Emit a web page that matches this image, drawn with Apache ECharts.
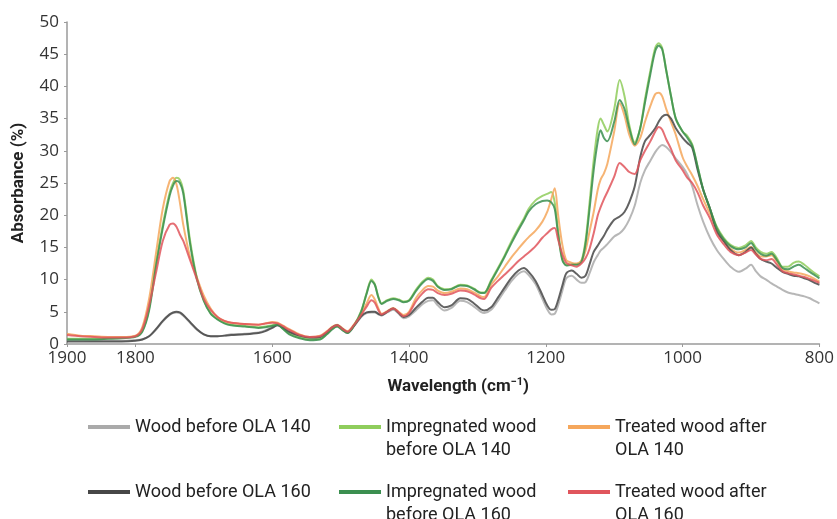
<!DOCTYPE html>
<html>
<head>
<meta charset="utf-8">
<script src="https://cdn.jsdelivr.net/npm/echarts@6/dist/echarts.min.js"></script>
<style>
html,body{margin:0;padding:0;background:#fff;}
#chart{width:837px;height:519px;}
</style>
</head>
<body>
<div id="chart"></div>
<script>
// Wavenumbers (cm-1)
const wavenumbers = [
1900,1880,1860,1840,1820,1800,1790,1780,1770,1760,1750,1745,1740,1735,1730,1720,1710,1700,1690,1680,1670,1660,1640,1620,1610,
1600,1592,1585,1575,1560,1545,1530,1520,1512,1505,1498,1490,1480,1470,1462,1455,1450,1445,1440,1432,1423,1415,1408,1400,1390,1380,1372,1365,1358,1348,
1338,1325,1315,1305,1295,1290,1280,1270,1260,1250,1240,1232,1225,1215,1205,1198,1192,1187,1182,1176,1170,1162,1155,1148,1142,1136,1130,1124,1120,1115,1110,1100,1092,1085,1078,1070,1062,1055,1047,1040,1035,1030,1024,1017,1010,1000,993,986,978,970,960,950,940,930,918,908,900,893,886,878,870,862,854,846,838,830,822,814,807,800];

const woodBefore140 = [
0.6,0.6,0.5,0.5,0.5,0.6,0.7,1.2,2.2,3.5,4.5,4.8,4.9,4.8,4.4,3.3,2.2,1.5,1.2,1.2,1.3,1.5,1.6,1.8,2.1,
2.6,2.9,2.5,1.8,1.2,0.9,1.0,1.7,2.5,2.8,2.3,1.7,2.8,4.2,4.8,4.9,4.9,4.6,4.4,4.9,5.3,4.7,4.0,4.3,5.2,6.2,6.7,6.8,6.0,5.2,
5.6,6.7,6.5,5.8,5.0,4.8,5.3,6.7,8.3,9.8,10.9,11.3,10.7,9.3,7.0,5.4,4.6,4.7,6.0,8.2,10.2,10.6,10.0,9.5,9.6,11.0,12.7,13.8,14.5,15.0,15.5,16.7,17.2,18.0,19.3,21.5,25.0,27.0,28.5,29.8,30.5,30.9,30.6,29.8,28.8,27.5,26.3,24.5,21.5,19.0,16.5,14.6,13.2,12.0,11.2,11.7,12.3,11.3,10.5,10.0,9.4,8.9,8.4,8.0,7.8,7.6,7.4,7.1,6.7,6.3];

const impregnated140 = [
0.8,0.8,0.8,0.9,1.0,1.2,2.0,5.5,12.5,18.5,23.5,25.0,25.8,25.5,23.8,16.0,10.2,6.8,4.8,3.9,3.3,3.0,2.8,2.6,2.7,
2.9,3.1,2.5,1.6,1.0,0.7,0.8,1.6,2.4,2.8,2.3,1.8,3.0,5.1,7.9,10.0,9.3,7.4,6.3,6.8,7.1,6.9,6.6,6.8,8.4,9.7,10.3,10.0,9.0,8.5,
8.6,9.2,9.1,8.6,8.0,8.0,9.9,11.8,13.8,16.0,18.0,19.5,21.0,22.3,23.0,23.3,23.6,22.0,17.5,13.3,12.3,12.4,12.4,12.9,16.0,22.0,28.5,33.5,35.0,34.0,33.0,36.5,41.0,38.5,34.0,31.3,33.5,38.0,42.5,46.0,46.7,46.0,42.5,38.5,35.0,33.0,32.3,31.0,27.5,24.0,21.0,18.2,16.5,15.4,14.9,15.3,16.0,15.0,14.3,14.0,14.3,13.3,12.0,12.0,12.6,12.8,12.3,11.6,11.0,10.5];

const treated140 = [
1.6,1.3,1.2,1.1,1.1,1.3,2.6,7.0,14.0,21.0,25.3,25.8,24.8,22.0,18.5,13.5,10.3,7.5,5.5,4.2,3.6,3.3,3.1,3.0,3.2,
3.4,3.3,2.9,2.3,1.5,1.1,1.3,2.0,2.7,3.0,2.5,2.0,3.1,4.6,6.3,7.6,6.9,5.6,4.7,5.1,5.6,5.0,4.5,5.0,7.1,8.4,9.0,8.9,8.3,7.9,
8.1,8.6,8.5,8.0,7.4,7.3,9.2,10.5,12.0,13.5,14.8,15.8,16.6,17.6,19.0,20.5,22.5,24.2,20.0,15.5,13.0,12.6,12.5,12.9,14.5,17.5,20.5,24.0,25.5,26.5,28.0,33.0,37.4,35.5,32.5,30.8,32.0,34.5,37.0,38.8,39.0,38.5,36.5,34.5,32.5,29.0,27.5,26.2,24.5,22.5,20.2,17.8,16.0,14.8,14.2,14.6,15.1,14.2,13.6,13.6,13.8,12.8,11.6,11.3,11.1,11.0,10.8,10.5,10.1,9.7];

const woodBefore160 = [
0.4,0.4,0.4,0.4,0.4,0.5,0.7,1.2,2.3,3.6,4.6,4.9,5.0,4.9,4.5,3.4,2.3,1.5,1.2,1.2,1.3,1.4,1.5,1.7,2.0,
2.5,2.9,2.6,1.9,1.3,1.0,1.1,1.8,2.6,2.9,2.4,1.8,2.9,4.3,4.9,5.0,5.0,4.7,4.5,5.0,5.5,4.8,4.2,4.5,5.6,6.6,7.2,7.2,6.5,5.7,
6.0,7.1,7.0,6.3,5.4,5.2,5.7,7.2,8.8,10.3,11.4,11.8,11.2,9.8,7.6,6.0,5.3,5.4,6.8,9.0,11.0,11.4,10.9,10.3,10.6,12.4,14.3,15.3,16.0,16.8,17.8,19.3,19.8,20.5,22.0,24.5,29.0,31.5,32.5,33.5,34.5,35.3,35.6,35.0,33.5,32.0,31.2,30.5,27.0,24.0,21.0,17.5,16.0,14.6,13.8,14.3,15.0,14.0,13.2,12.8,12.5,11.8,11.2,10.9,10.6,10.5,10.2,9.9,9.5,9.2];

const impregnated160 = [
0.7,0.7,0.7,0.8,0.9,1.1,1.9,5.2,12.0,18.0,23.0,24.6,25.3,25.0,23.4,15.5,10.0,6.7,4.7,3.8,3.2,2.9,2.7,2.5,2.6,
2.8,3.0,2.4,1.5,0.9,0.6,0.7,1.5,2.3,2.7,2.2,1.7,2.9,5.0,7.8,9.8,9.2,7.3,6.2,6.7,7.0,6.8,6.5,6.7,8.2,9.5,10.1,9.8,8.9,8.4,
8.5,9.1,9.0,8.5,7.9,7.9,9.7,11.6,13.6,15.7,17.7,19.2,20.6,21.7,22.2,22.3,22.0,21.0,17.0,13.1,12.2,12.3,12.3,12.7,15.5,21.0,27.0,31.5,33.2,32.0,31.5,34.5,37.9,36.5,33.5,31.0,33.5,37.5,42.0,45.5,46.3,45.8,42.5,38.5,35.0,33.0,32.0,30.8,27.5,24.0,21.0,18.0,16.3,15.2,14.7,15.0,15.7,14.7,14.0,13.7,14.0,13.0,11.8,11.6,12.0,12.3,11.8,11.2,10.7,10.2];

const treated160 = [
1.4,1.2,1.1,1.0,1.0,1.2,2.3,6.0,11.0,16.0,18.5,18.7,18.2,17.0,16.0,13.0,10.0,7.0,5.3,4.2,3.6,3.3,3.1,3.0,3.2,
3.3,3.2,2.8,2.2,1.4,1.1,1.2,1.9,2.6,2.9,2.4,1.9,3.0,4.5,5.8,6.8,6.4,5.3,4.6,5.0,5.5,4.9,4.3,4.8,6.6,7.9,8.5,8.4,7.9,7.6,
7.8,8.3,8.2,7.7,7.1,7.0,8.7,9.8,10.8,11.8,12.9,13.6,14.2,15.2,16.5,17.2,17.8,18.0,16.2,14.0,12.6,12.2,12.0,12.5,13.3,14.8,17.2,20.0,21.2,22.5,23.6,26.0,28.1,27.5,26.7,26.4,28.5,30.0,31.5,33.0,33.7,33.3,31.8,30.3,28.5,27.0,25.8,25.0,23.5,21.5,19.5,17.0,15.5,14.3,13.8,14.2,14.6,13.9,13.2,13.0,13.2,12.3,11.3,11.0,10.8,10.6,10.4,10.1,9.8,9.5];

// Peak annotations
const peakLabels = ['(a)','(b)','(c)','(d)','(e)','(f)','(g)','(h)','(i)'];
const peakWavenumbers = [1737,1504,1455,1363,1267,1188,1124,1088,1036];
const peakLabelValues = [28.1,5.0,11.8,12.4,14.3,26.4,36.5,42.5,48.6];

const seriesNames = ['Wood before OLA 140','Impregnated wood before OLA 140','Treated wood after OLA 140',
                     'Wood before OLA 160','Impregnated wood before OLA 160','Treated wood after OLA 160'];
const legendTexts = ['Wood before OLA 140', ' \nImpregnated wood\nbefore OLA 140', ' \nTreated wood after\nOLA 140',
                     'Wood before OLA 160', ' \nImpregnated wood\nbefore OLA 160', ' \nTreated wood after\nOLA 160'];
const seriesValues = [woodBefore140, impregnated140, treated140, woodBefore160, impregnated160, treated160];
const seriesColors = ['#aaaaaa','#8fcd5c','#f5a75c','#474747','#3b8f50','#e0555c'];

const FONT = '"Open Sans", sans-serif';
const LFONT = 'Roboto, sans-serif';

const chart = echarts.init(document.getElementById('chart'), null, {renderer:'canvas'});

const lineSeries = seriesNames.map((name, k) => ({
  name: name,
  type: 'line',
  data: wavenumbers.map((w, i) => [w, seriesValues[k][i]]),
  showSymbol: false,
  smooth: 0.3,
  silent: true,
  lineStyle: {color: seriesColors[k], width: 2, opacity: 0.85},
  itemStyle: {color: seriesColors[k]},
  z: 2
}));

lineSeries.push({
  name: 'labels',
  type: 'scatter',
  data: peakWavenumbers.map((w, i) => ({value: [w, peakLabelValues[i]], label: {formatter: peakLabels[i]}})),
  symbolSize: 1,
  itemStyle: {opacity: 0},
  silent: true,
  label: {show: true, position: 'inside', color: '#222', fontSize: 16, fontFamily: FONT},
  z: 5
});

// legend layout: columns (icon left) and rows (icon centre)
const LH = 23;
const colLeft = [88, 339, 568];
const rowCenter = [427, 492];
const legends = seriesNames.map((name, k) => {
  const col = k % 3, row = Math.floor(k / 3);
  const lines = legendTexts[k].split('\n').length;
  return {
    orient: 'horizontal',
    left: colLeft[col],
    top: rowCenter[row] - lines * LH / 2,
    padding: 0,
    itemWidth: 42,
    itemHeight: 4,
    icon: 'rect',
    selectedMode: false,
    data: [name],
    formatter: function () { return legendTexts[k]; },
    textStyle: {fontFamily: LFONT, fontSize: 18, color: '#222', lineHeight: LH}
  };
});

chart.setOption({
  animation: false,
  backgroundColor: '#fff',
  grid: {left: 67, right: 14, top: 22, bottom: 175, containLabel: false},
  xAxis: {
    type: 'value', inverse: true, min: 800, max: 1900, interval: 200,
    name: 'Wavelength (cm{sup|−1})',
    nameLocation: 'middle', nameGap: 33,
    nameTextStyle: {fontFamily: LFONT, fontSize: 17, fontWeight: 'bold', color: '#222', padding: [0, 0, 0, 30],
      rich: {sup: {fontSize: 11, fontWeight: 'bold', verticalAlign: 'top', padding: [0,0,9,0], fontFamily: LFONT, color:'#222'}}},
    axisLine: {lineStyle: {color: '#9a9a9a', width: 1.5}},
    axisTick: {show: true, length: 3, lineStyle: {color: '#9a9a9a'}},
    axisLabel: {fontFamily: FONT, fontSize: 17, color: '#333', margin: 6, formatter: v => String(v)},
    splitLine: {show: false}
  },
  yAxis: {
    type: 'value', min: 0, max: 50, interval: 5,
    name: 'Absorbance (%)',
    nameLocation: 'middle', nameGap: 40,
    nameTextStyle: {fontFamily: LFONT, fontSize: 17, fontWeight: 'bold', color: '#222'},
    axisLine: {show: true, lineStyle: {color: '#9a9a9a', width: 1.5}},
    axisTick: {show: true, length: 3, lineStyle: {color: '#9a9a9a'}},
    axisLabel: {fontFamily: FONT, fontSize: 17, color: '#333', margin: 8, formatter: v => String(v)},
    splitLine: {show: false}
  },
  legend: legends,
  series: lineSeries
});
</script>
</body>
</html>
